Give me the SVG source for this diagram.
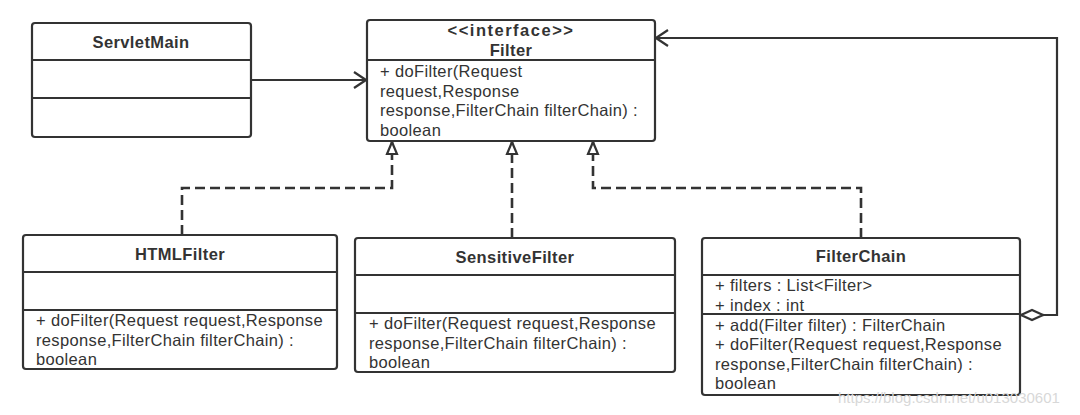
<svg xmlns="http://www.w3.org/2000/svg" width="1080" height="415" viewBox="0 0 1080 415">
<style>
.box{fill:#fff;stroke:#333;stroke-width:2.2}
.sep{stroke:#333;stroke-width:2.2}
.t{font-family:"Liberation Sans",Arial,sans-serif;font-size:16.5px;letter-spacing:0.35px;fill:#333}
.b{font-weight:bold;text-anchor:middle;letter-spacing:0.4px}
.ln{fill:none;stroke:#333;stroke-width:2.2}
.dash{stroke-dasharray:10,5;stroke-width:2.6}
.wm{font-family:"Liberation Sans",sans-serif;font-size:15px;fill:#d8d8d8}
</style>
<defs>
<marker id="open" markerWidth="14" markerHeight="18" refX="13" refY="9" orient="auto" markerUnits="userSpaceOnUse">
<path d="M1,1 L13,9 L1,17" fill="none" stroke="#333" stroke-width="2.2"/>
</marker>
<marker id="tri" markerWidth="14" markerHeight="16" refX="13" refY="7" orient="auto" markerUnits="userSpaceOnUse">
<path d="M1,2 L13,7 L1,12 Z" fill="#fff" stroke="#333" stroke-width="2.2"/>
</marker>
<marker id="dia" markerWidth="28" markerHeight="14" refX="1" refY="7" orient="auto" markerUnits="userSpaceOnUse">
<path d="M1,7 L12,2 L23,7 L12,12 Z" fill="#fff" stroke="#333" stroke-width="2.2"/>
</marker>
</defs>
<g id="connectors">
<path class="ln" d="M251,80 L366,80" marker-end="url(#open)"/>
<path class="ln dash" d="M182,235 L182,188 L392,188 L392,142" marker-end="url(#tri)"/>
<path class="ln dash" d="M512,238 L512,142" marker-end="url(#tri)"/>
<path class="ln dash" d="M861,238 L861,188 L593,188 L593,142" marker-end="url(#tri)"/>
<path class="ln" d="M1044,315 L1057,315 L1057,38 L656,38" marker-end="url(#open)"/>
<path class="ln" d="M1021,315 L1044,315" marker-start="url(#dia)"/>
</g>
<g id="ServletMain">
<rect class="box" x="32" y="23" width="219" height="114" rx="3"/>
<line class="sep" x1="32" y1="60" x2="251" y2="60"/>
<line class="sep" x1="32" y1="98" x2="251" y2="98"/>
<text class="t b" x="141" y="48">ServletMain</text>
</g>
<g id="Filter">
<rect class="box" x="367" y="20" width="288" height="121" rx="3"/>
<line class="sep" x1="367" y1="60" x2="655" y2="60"/>
<text class="t b"><tspan x="511" y="36" letter-spacing="1.5">&lt;&lt;interface&gt;&gt;</tspan><tspan x="511" y="56">Filter</tspan></text>
<text class="t"><tspan x="380" y="77">+ doFilter(Request</tspan><tspan x="380" y="96.5">request,Response</tspan><tspan x="380" y="116">response,FilterChain filterChain) :</tspan><tspan x="380" y="135.5">boolean</tspan></text>
</g>
<g id="HTMLFilter">
<rect class="box" x="23" y="235" width="314" height="134" rx="3"/>
<line class="sep" x1="23" y1="272" x2="337" y2="272"/>
<line class="sep" x1="23" y1="310" x2="337" y2="310"/>
<text class="t b" x="180" y="260">HTMLFilter</text>
<text class="t"><tspan x="36" y="326">+ doFilter(Request request,Response</tspan><tspan x="36" y="345.5">response,FilterChain filterChain) :</tspan><tspan x="36" y="365">boolean</tspan></text>
</g>
<g id="SensitiveFilter">
<rect class="box" x="355" y="238" width="320" height="134" rx="3"/>
<line class="sep" x1="355" y1="275" x2="675" y2="275"/>
<line class="sep" x1="355" y1="313" x2="675" y2="313"/>
<text class="t b" x="515" y="263">SensitiveFilter</text>
<text class="t"><tspan x="369" y="329">+ doFilter(Request request,Response</tspan><tspan x="369" y="348.5">response,FilterChain filterChain) :</tspan><tspan x="369" y="368">boolean</tspan></text>
</g>
<g id="FilterChain">
<rect class="box" x="702" y="238" width="318" height="157" rx="3"/>
<line class="sep" x1="702" y1="275" x2="1020" y2="275"/>
<line class="sep" x1="702" y1="314" x2="1020" y2="314"/>
<text class="t b" x="861" y="262">FilterChain</text>
<text class="t"><tspan x="715" y="291">+ filters : List&lt;Filter&gt;</tspan><tspan x="715" y="310.5">+ index : int</tspan></text>
<text class="t"><tspan x="715" y="330.5">+ add(Filter filter) : FilterChain</tspan><tspan x="715" y="350">+ doFilter(Request request,Response</tspan><tspan x="715" y="369.5">response,FilterChain filterChain) :</tspan><tspan x="715" y="389">boolean</tspan></text>
</g>
<text class="wm" x="838" y="403">https://blog.csdn.net/u013030601</text>
</svg>
